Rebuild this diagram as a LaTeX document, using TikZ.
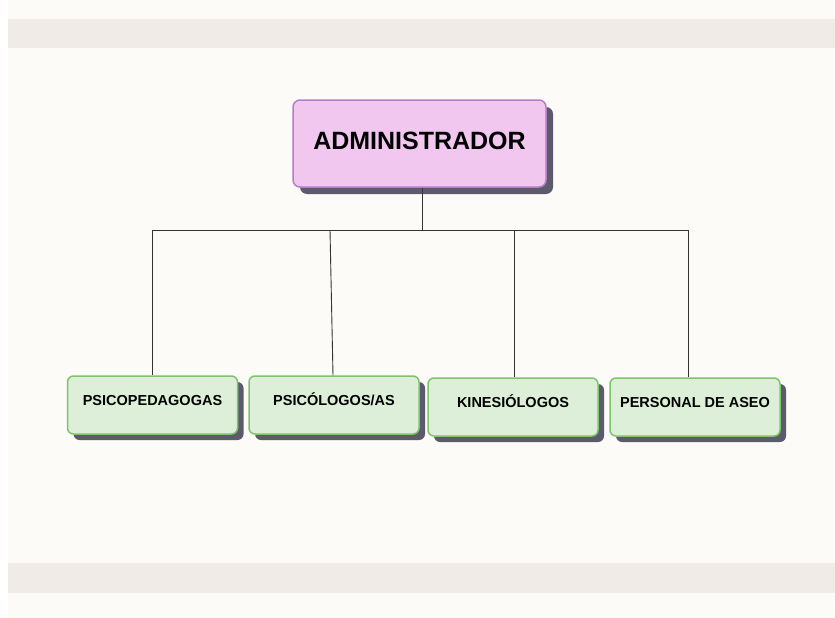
\documentclass[tikz,border=0pt]{standalone}
\usepackage{fontspec}
\setmainfont{Liberation Sans}
\usepackage{tikz}
\usetikzlibrary{shadows,calc}
\usepackage{xcolor}
\definecolor{pagecream}{HTML}{FDFBF7}
\definecolor{bandgray}{HTML}{F1EBE7}
\definecolor{adminfill}{HTML}{F1C7F0}
\definecolor{admindraw}{HTML}{B47DC8}
\definecolor{staffill}{HTML}{DDEFD9}
\definecolor{stafdraw}{HTML}{7DC46D}
\definecolor{shadowgray}{HTML}{5C5B6B}
\definecolor{linkgray}{HTML}{333333}
\tikzstyle{adminbox}=[draw=admindraw, line width=1.5pt, fill=adminfill, rounded corners=7pt,
	minimum width=253pt, inner xsep=0pt, inner ysep=5pt, text height=44pt, text depth=33pt,
	general shadow={fill=shadowgray, shadow xshift=7pt, shadow yshift=-7pt},
	font=\fontsize{25}{28}\selectfont\bfseries]
\tikzstyle{stafbox}=[draw=stafdraw, line width=1.5pt, fill=staffill, rounded corners=6pt,
	minimum width=170pt, inner xsep=0pt, inner ysep=5pt, text height=24pt, text depth=24pt,
	general shadow={fill=shadowgray, shadow xshift=6pt, shadow yshift=-6pt},
	font=\fontsize{14.5}{17}\selectfont\bfseries]
\tikzstyle{link}=[draw=linkgray, line width=0.9pt]
\begin{document}
\begin{tikzpicture}[x=1pt, y=-1pt]
	\useasboundingbox (0,0) rectangle (835,618);
	\fill[white] (0,0) rectangle (835,618);
	\fill[pagecream] (8,0) rectangle (835,618);
	\fill[bandgray] (8,19) rectangle (835,48);
	\fill[bandgray] (8,563) rectangle (835,593);
%
	\node[adminbox] (admin) at (419.5,143.5) {ADMINISTRADOR};
%
	\node[stafbox] (psicoped) at (152.5,405) {PSICOPEDAGOGAS};
	\node[stafbox] (psicolog) at (334,405) {PSICÓLOGOS/AS};
	\node[stafbox] (kinesio) at (513,407) {KINESIÓLOGOS};
	\node[stafbox] (aseo) at (695,407) {PERSONAL DE ASEO};
%
	\coordinate (hub) at (422,230);
	\coordinate (t1) at (152,230);
	\coordinate (t2) at (330,230);
	\coordinate (t3) at (514,230);
	\coordinate (t4) at (688,230);
%
	\draw[link] (admin.south -| hub) -- (hub);
	\draw[link] (t1) -- (t4);
	\draw[link] (t1) -- (t1 |- psicoped.north);
	\draw[link] (t2) -- ($(t2 |- psicolog.north)+(3,0)$);
	\draw[link] (t3) -- (t3 |- kinesio.north);
	\draw[link] (t4) -- (t4 |- aseo.north);
\end{tikzpicture}
\end{document}
